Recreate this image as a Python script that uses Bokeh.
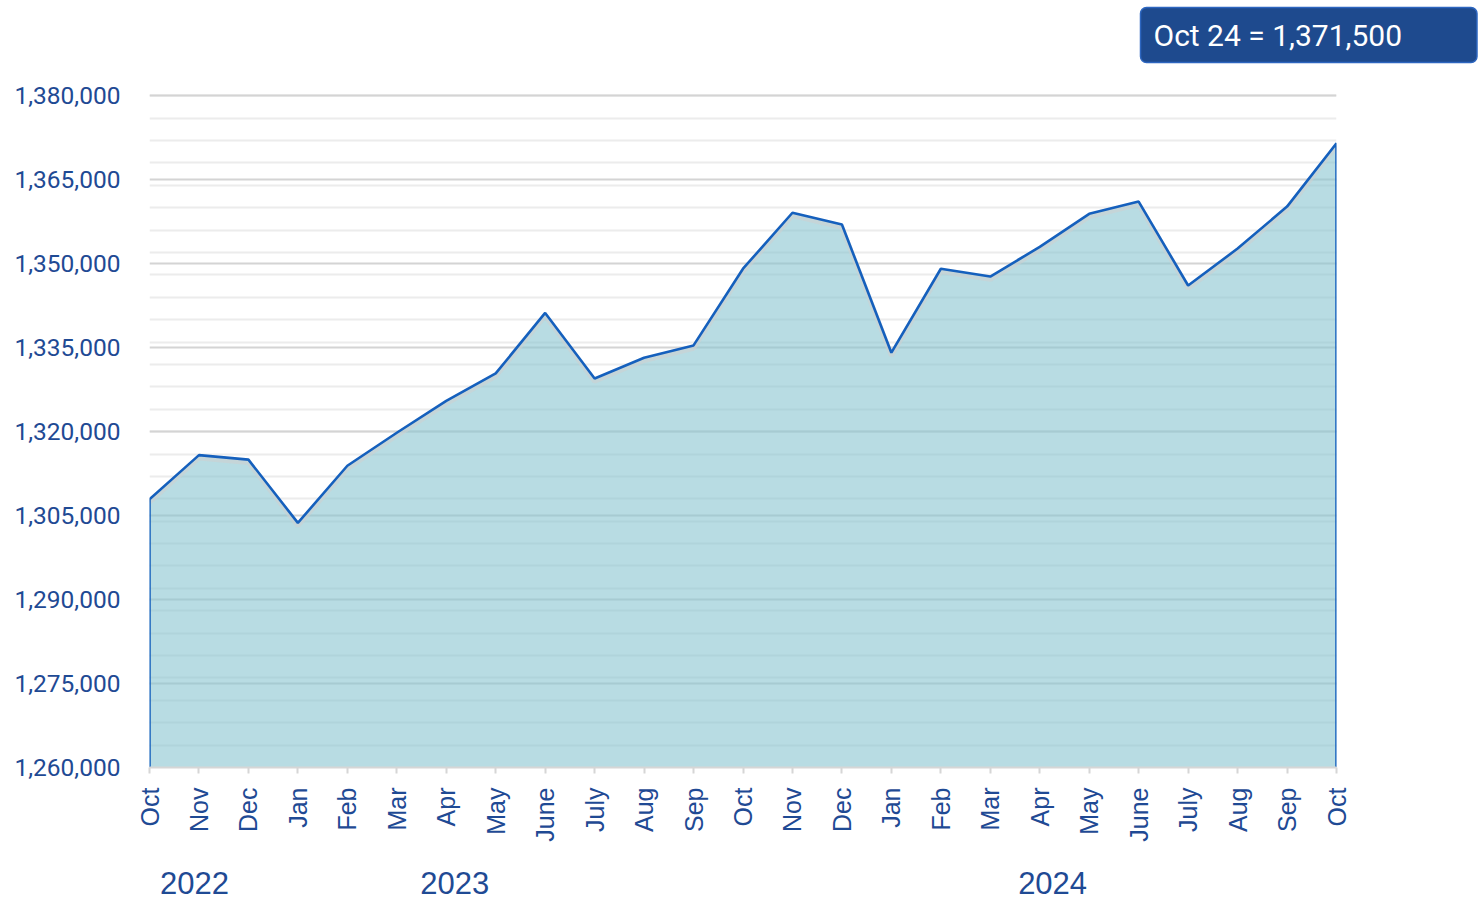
import math
from bokeh.plotting import figure
from bokeh.models import FixedTicker, NumeralTickFormatter, Range1d, LinearAxis, Title
from bokeh.embed import file_html
from bokeh.resources import INLINE

months = ["Oct", "Nov", "Dec", "Jan", "Feb", "Mar", "Apr", "May", "June", "July", "Aug", "Sep",
          "Oct", "Nov", "Dec", "Jan", "Feb", "Mar", "Apr", "May", "June", "July", "Aug", "Sep", "Oct"]
values = [1307900, 1315800, 1315000, 1303700, 1313900, 1319800, 1325500, 1330400, 1341200,
          1329500, 1333200, 1335400, 1349100, 1359100, 1357000, 1334100, 1349100, 1347700,
          1353000, 1358900, 1361100, 1346100, 1352700, 1360200, 1371500]
years = ["2022", "2023", "2024"]
year_pos = [0.91, 6.17, 18.26]
y_ticks = list(range(1260000, 1380001, 15000))
y_minor = list(range(1260000, 1380001, 4000))
callout = "Oct 24 = 1,371,500"

idx = list(range(len(values)))
base = 1260000

BLUE_TXT = "#1f4a94"

W, H = 1478, 904
p = figure(width=W, height=H, x_range=Range1d(0, len(values) - 1),
           y_range=Range1d(1260000, 1380400), output_backend="svg", toolbar_location=None,
           min_border_left=149, min_border_right=W - 1336, min_border_top=93,
           min_border_bottom=H - 767)
p.outline_line_color = None
p.background_fill_color = "white"
p.border_fill_color = "white"

p.xgrid.visible = False
p.ygrid.ticker = FixedTicker(ticks=y_ticks, minor_ticks=y_minor)
p.ygrid.grid_line_color = "#d4d4d4"
p.ygrid.grid_line_width = 2
p.ygrid.minor_grid_line_color = "#ececec"
p.ygrid.minor_grid_line_width = 2

# area fill
p.varea(x=idx, y1=base, y2=values, fill_color="#89c5d0", fill_alpha=0.6)
# soft shadow under line
p.line(x=idx, y=[v - 500 for v in values], line_color="#d0d0d0", line_alpha=0.55, line_width=5)
# outline
p.line(x=[0] + idx + [idx[-1]], y=[base] + values + [base], line_color="#1560bd", line_width=2.6)

# x axis (months)
xa = p.xaxis[0]
xa.ticker = FixedTicker(ticks=idx)
xa.major_label_overrides = {i: m for i, m in zip(idx, months)}
xa.major_label_orientation = math.pi / 2
xa.major_label_text_font = "Liberation Sans"
xa.major_label_text_font_size = "25px"
xa.major_label_text_color = BLUE_TXT
xa.major_label_standoff = 14
xa.axis_line_color = "#d6d6d6"
xa.axis_line_width = 2
xa.major_tick_line_color = "#d6d6d6"
xa.major_tick_line_width = 2
xa.major_tick_out = 6
xa.major_tick_in = 0
xa.minor_tick_line_color = None

# second x axis (years)
ya2 = LinearAxis(ticker=FixedTicker(ticks=year_pos),
                 major_label_overrides={xp: yr for xp, yr in zip(year_pos, years)})
ya2.major_label_text_font = "Liberation Sans"
ya2.major_label_text_font_size = "31px"
ya2.major_label_text_color = BLUE_TXT
ya2.major_label_standoff = 27
ya2.axis_line_color = None
ya2.major_tick_line_color = None
ya2.minor_tick_line_color = None
ya2.major_tick_out = 0
ya2.major_tick_in = 0
p.add_layout(ya2, "below")

# y axis
ya = p.yaxis[0]
ya.ticker = FixedTicker(ticks=y_ticks)
ya.formatter = NumeralTickFormatter(format="0,0")
ya.major_label_text_font = "Roboto"
ya.major_label_text_font_size = "24.5px"
ya.major_label_text_color = BLUE_TXT
ya.major_label_standoff = 23
ya.axis_line_color = None
ya.major_tick_line_color = None
ya.minor_tick_line_color = None

# spacer between frame and callout (closest to frame)
spacer = Title(text=" ", text_font_size="1px", standoff=28)
p.add_layout(spacer, "above")

# callout box as a title
t = Title(text=callout, align="left", offset=991, standoff=0,
          text_font="Roboto", text_font_size="30px", text_font_style="normal",
          text_color="white", background_fill_color="#1e4a8e",
          border_line_color="#2d66c0", border_line_width=1.5,
          padding=dict(left=13, right=75, top=10, bottom=10), border_radius=6)
p.add_layout(t, "above")

open("out.html", "w").write(file_html(p, INLINE))
